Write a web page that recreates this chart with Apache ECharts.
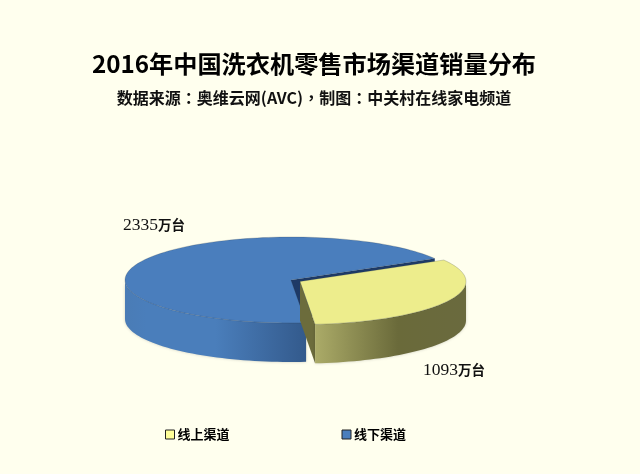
<!DOCTYPE html>
<html><head><meta charset="utf-8">
<style>html,body{margin:0;padding:0;background:#FFFFEE}#c{width:640px;height:474px}</style>
<script src="https://cdn.jsdelivr.net/npm/echarts@6/dist/echarts.min.js"></script>
</head><body><div id="c"></div>
<script>
const categories = ['线上渠道', '线下渠道'];
const salesValues = [1093, 2335];
const unitLabel = '万台';
const titleText = '2016年中国洗衣机零售市场渠道销量分布';
const subtitleText = '数据来源：奥维云网(AVC)，制图：中关村在线家电频道';

const topColors = ['#EDED8C', '#4A7EBD'];
const innerColors = ['#6C6C3C', '#1E3A66'];
const wallStops = [
  [[0, '#ABAB68'], [0.55, '#6A6A3A'], [1, '#6A6A3E']],
  [[0, '#4A7CB6'], [0.12, '#4A7EBB'], [0.5, '#4A7EBB'], [1, '#335A8C']]
];
const explode = [[9, 1.5], [0, 0]];
const labelPos = [[423, 361], [123, 216]];
const CX = 291, CY = 280, RX = 166, RY = 43, DEPTH = 39;
const START_ANGLE = 30;

const total = salesValues.reduce((a, b) => a + b, 0);
function sliceAngles(i) {
  let a = START_ANGLE;
  for (let k = 0; k < i; k++) a -= salesValues[k] / total * 360;
  return [a, a - salesValues[i] / total * 360];
}
function renderSlice(i) {
  return function (params, api) {
    const [a0, a1] = sliceAngles(i);
    const cx = CX + explode[i][0], cy = CY + explode[i][1];
    const pt = (deg, d) => [cx + RX * Math.cos(deg * Math.PI / 180), cy - RY * Math.sin(deg * Math.PI / 180) + (d || 0)];
    const arc = (from, to, d) => {
      const n = Math.max(2, Math.ceil(Math.abs(from - to) / 2)), out = [];
      for (let k = 0; k <= n; k++) out.push(pt(from + (to - from) * k / n, d));
      return out;
    };
    const children = [];
    const apex = [cx, cy], apexD = [cx, cy + DEPTH];
    // the cut face turned toward the viewer is the one at the slice's end angle
    children.push({ type: 'polygon', shape: { points: [apex, pt(a1), pt(a1, DEPTH), apexD] },
      style: { fill: innerColors[i] } });
    // outer wall: the part of the rim on the front half of the ellipse
    const wFrom = Math.min(a0, 0), wTo = Math.max(a1, -180);
    const wa = arc(wFrom, wTo, 0), wb = arc(wFrom, wTo, DEPTH).reverse();
    const xs = wa.map(p => p[0]);
    const x0 = Math.min.apply(null, xs), x1 = Math.max.apply(null, xs);
    const grad = new echarts.graphic.LinearGradient(x0, 0, x1, 0,
      wallStops[i].map(s => ({ offset: s[0], color: s[1] })), true);
    children.push({ type: 'polygon', shape: { points: wa.concat(wb) },
      style: { fill: grad, shadowBlur: 3, shadowColor: 'rgba(0,0,0,0.2)' } });
    // top surface
    children.push({ type: 'polygon', shape: { points: [apex].concat(arc(a0, a1, 0)) },
      style: { fill: topColors[i], stroke: 'rgba(40,50,60,0.35)', lineWidth: 0.6 } });
    // value label
    children.push({ type: 'text', style: {
      x: labelPos[i][0], y: labelPos[i][1],
      text: '{n|' + salesValues[i] + '}{u|' + unitLabel + '}',
      rich: {
        n: { fontFamily: 'Liberation Serif', fontSize: 17.5, fill: '#111', color: '#111' },
        u: { fontFamily: 'Noto Sans CJK SC', fontSize: 13.5, fontWeight: 'bold', fill: '#111', color: '#111' }
      } } });
    return { type: 'group', children };
  };
}
const legendColors = ['#FFFF99', '#4A7EBD'];
const chart = echarts.init(document.getElementById('c'));
const subBase = { fontFamily: 'Noto Sans CJK SC', fontSize: 16, fontWeight: 'bold', color: '#111' };
chart.setOption({
  animation: false,
  backgroundColor: '#FFFFEE',
  title: [
    { text: titleText, left: 309, top: 47, textAlign: 'center',
      textStyle: { fontFamily: 'Noto Sans CJK SC', fontSize: 24.2, fontWeight: 'bold', color: '#000' } },
    { text: subtitleText.replace(/[：，]/g, m => '{p|' + m + '}'), left: 309, top: 85, textAlign: 'center',
      textStyle: Object.assign({}, subBase, {
        rich: { p: Object.assign({}, subBase, { fontFamily: 'Noto Sans CJK TC' }) } }) }
  ],
  legend: {
    data: categories, icon: 'rect', left: 160, top: 423, itemWidth: 9, itemHeight: 9, itemGap: 112,
    textStyle: { fontFamily: 'Noto Sans CJK SC', fontSize: 13, fontWeight: 'bold', color: '#000', padding: [0, 0, 0, -2] },
    itemStyle: { borderColor: '#222', borderWidth: 1 }
  },
  series: categories.map((name, i) => ({
    type: 'custom', name, coordinateSystem: 'none', z: i === 0 ? 3 : 2,
    itemStyle: { color: legendColors[i] },
    data: [salesValues[i]],
    renderItem: renderSlice(i)
  }))
});
</script></body></html>
